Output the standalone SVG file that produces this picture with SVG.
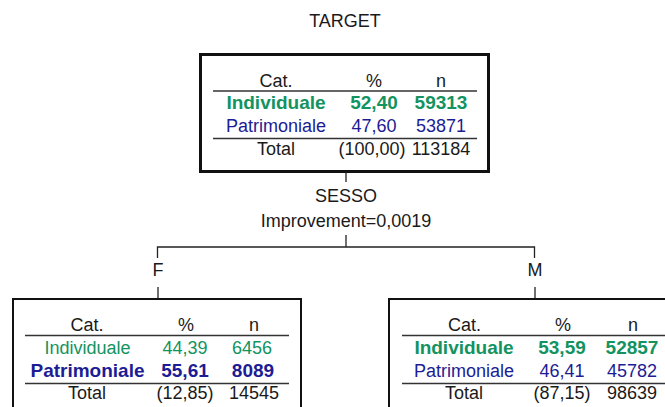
<svg xmlns="http://www.w3.org/2000/svg" width="665" height="407" viewBox="0 0 665 407">
<style>
text{font-family:"Liberation Sans",Arial,sans-serif;font-size:18px;fill:#1a1a1a;text-anchor:middle}
.g{fill:#13935f}
.b{fill:#1c1c94}
.bold{font-weight:bold;font-size:19px}
.box{fill:#fff;stroke:#111}
.rule{stroke:#333;stroke-width:1.5}
.conn{stroke:#222;stroke-width:1.3;fill:none}
</style>
<rect width="665" height="407" fill="#fff"/>
<text x="345" y="27">TARGET</text>
<g id="root">
<rect class="box" x="200.5" y="54.5" width="288" height="117" stroke-width="3"/>
<text x="276" y="87">Cat.</text><text x="374" y="87">%</text><text x="441" y="87">n</text>
<line class="rule" x1="213" y1="91" x2="477" y2="91"/>
<text class="g bold" x="276" y="109">Individuale</text><text class="g bold" x="374" y="109">52,40</text><text class="g bold" x="441" y="109">59313</text>
<text class="b" x="276" y="132">Patrimoniale</text><text class="b" x="374" y="132">47,60</text><text class="b" x="441" y="132">53871</text>
<line class="rule" x1="213" y1="138.5" x2="477" y2="138.5"/>
<text x="276" y="155">Total</text><text x="372" y="155">(100,00)</text><text x="441" y="155">113184</text>
</g>
<g id="connectors">
<line class="conn" x1="346" y1="173" x2="346" y2="182"/>
<text x="346" y="202">SESSO</text>
<text x="346" y="227">Improvement=0,0019</text>
<polyline class="conn" points="346,235 346,247"/>
<polyline class="conn" points="157.5,258 157.5,247 534.5,247 534.5,258"/>
<text x="158" y="276">F</text>
<text x="535" y="276">M</text>
<line class="conn" x1="158" y1="287" x2="158" y2="299"/>
<line class="conn" x1="535" y1="287" x2="535" y2="299"/>
</g>
<g id="nodeF">
<rect class="box" x="13" y="299" width="288" height="120" stroke-width="2"/>
<text x="87" y="331">Cat.</text><text x="186" y="331">%</text><text x="254" y="331">n</text>
<line class="rule" x1="25" y1="335.5" x2="289" y2="335.5"/>
<text class="g" x="87.5" y="354">Individuale</text><text class="g" x="185" y="354">44,39</text><text class="g" x="252" y="354">6456</text>
<text class="b bold" x="87.5" y="377">Patrimoniale</text><text class="b bold" x="185" y="377">55,61</text><text class="b bold" x="253" y="377">8089</text>
<line class="rule" x1="25" y1="383.5" x2="289" y2="383.5"/>
<text x="87" y="399">Total</text><text x="185" y="399">(12,85)</text><text x="254" y="399">14545</text>
</g>
<g id="nodeM">
<rect class="box" x="389" y="299" width="288" height="120" stroke-width="2"/>
<text x="464.5" y="331">Cat.</text><text x="563" y="331">%</text><text x="633" y="331">n</text>
<line class="rule" x1="402" y1="335.5" x2="666" y2="335.5"/>
<text class="g bold" x="464" y="354">Individuale</text><text class="g bold" x="562" y="354">53,59</text><text class="g bold" x="632" y="354">52857</text>
<text class="b" x="464" y="377">Patrimoniale</text><text class="b" x="562" y="377">46,41</text><text class="b" x="632" y="377">45782</text>
<line class="rule" x1="402" y1="383.5" x2="666" y2="383.5"/>
<text x="464" y="399">Total</text><text x="562" y="399">(87,15)</text><text x="632" y="399">98639</text>
</g>
</svg>
